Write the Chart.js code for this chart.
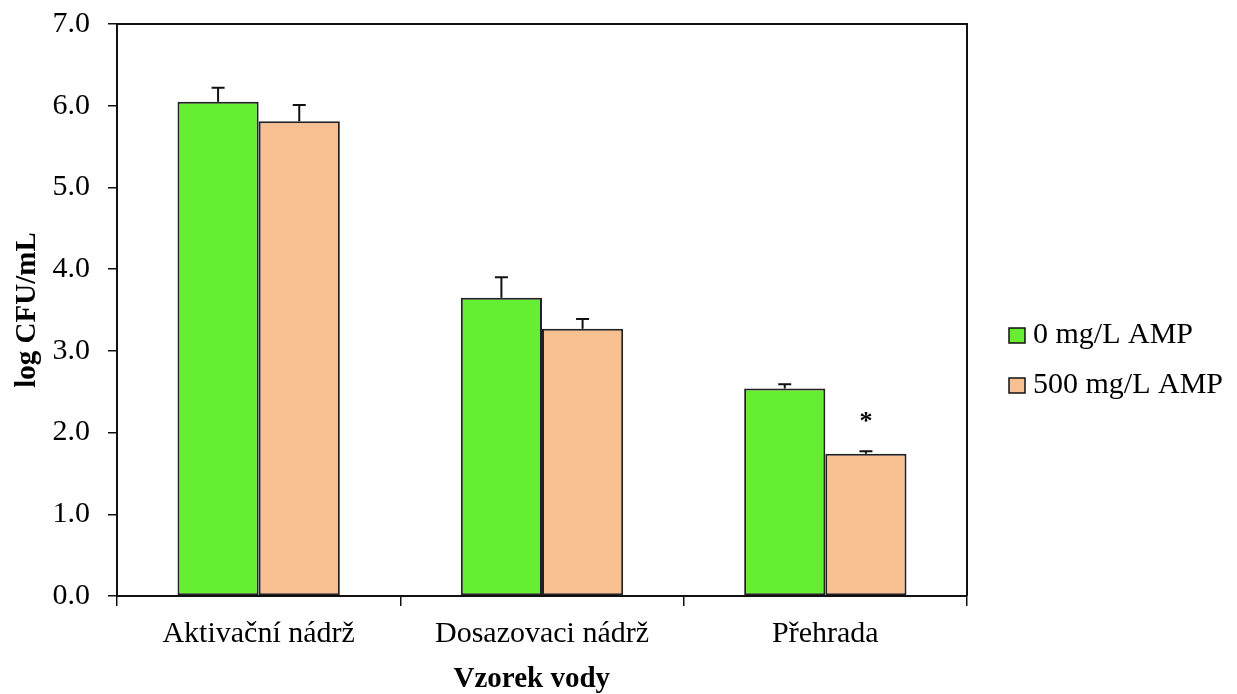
<!DOCTYPE html>
<html>
<head>
<meta charset="utf-8">
<script src="https://cdn.jsdelivr.net/npm/chart.js@4/dist/chart.umd.min.js"></script>
<style>
  html, body { margin: 0; padding: 0; background: #fff; }
  #wrap { width: 1237px; height: 694px; }
</style>
</head>
<body>
<div id="wrap"><canvas id="c" width="1237" height="694"></canvas></div>
<script>
// Water samples on the x axis
const categories = ['Aktivační nádrž', 'Dosazovaci nádrž', 'Přehrada'];
const seriesLabels = ['0 mg/L AMP', '500 mg/L AMP'];

// Mean log CFU/mL and standard deviation for each treatment
const cfu0 = [6.05, 3.65, 2.54];
const sd0 = [0.17, 0.25, 0.05];
const cfu500 = [5.81, 3.27, 1.74];
const sd500 = [0.20, 0.12, 0.03];
// Significance marks above the 500 mg/L bars
const signif500 = ['', '', '*'];

const yTicks = [0, 1, 2, 3, 4, 5, 6, 7];
const xTitle = 'Vzorek vody';
const yTitle = 'log CFU/mL';

const FONT = "'Liberation Serif', 'Times New Roman', serif";

// Upward-only error bars with caps, plus significance markers
const errorBars = {
  id: 'errorBars',
  afterDatasetsDraw(chart) {
    const ctx = chart.ctx;
    const y = chart.scales.y;
    ctx.save();
    ctx.strokeStyle = '#111';
    ctx.lineWidth = 2;
    chart.data.datasets.forEach((ds, di) => {
      const meta = chart.getDatasetMeta(di);
      meta.data.forEach((bar, i) => {
        const top = y.getPixelForValue(ds.data[i] + ds.sd[i]);
        ctx.beginPath();
        ctx.moveTo(bar.x, bar.y);
        ctx.lineTo(bar.x, top);
        ctx.moveTo(bar.x - 6.5, top);
        ctx.lineTo(bar.x + 6.5, top);
        ctx.stroke();
        if (ds.marks && ds.marks[i]) {
          ctx.fillStyle = '#000';
          ctx.font = 'bold 26px ' + FONT;
          ctx.textAlign = 'center';
          ctx.textBaseline = 'alphabetic';
          ctx.fillText(ds.marks[i], bar.x, top - 22);
        }
      });
    });
    ctx.restore();
  }
};

// Closes the plot box on the top and right sides, and writes the x-axis title
const plotFrame = {
  id: 'plotFrame',
  afterDraw(chart) {
    const { ctx, chartArea: a } = chart;
    ctx.save();
    ctx.strokeStyle = '#111';
    ctx.lineWidth = 2;
    ctx.beginPath();
    ctx.moveTo(a.left, a.top);
    ctx.lineTo(a.right, a.top);
    ctx.lineTo(a.right, a.bottom);
    ctx.stroke();
    ctx.fillStyle = '#000';
    ctx.font = 'bold 29px ' + FONT;
    ctx.textAlign = 'center';
    ctx.textBaseline = 'alphabetic';
    ctx.fillText(xTitle, a.left + (a.right - a.left) * 0.488, 687);
    ctx.restore();
  }
};

// Legend to the right of the plot box
const sideLegend = {
  id: 'sideLegend',
  afterDraw(chart) {
    const ctx = chart.ctx;
    const x0 = 1009, baseY = 343, step = 50;
    ctx.save();
    chart.data.datasets.forEach((ds, i) => {
      const by = baseY + i * step;
      ctx.fillStyle = ds.backgroundColor;
      ctx.fillRect(x0, by - 15, 16, 15);
      ctx.strokeStyle = '#111';
      ctx.lineWidth = 1.5;
      ctx.strokeRect(x0, by - 15, 16, 15);
      ctx.fillStyle = '#000';
      ctx.font = '30px ' + FONT;
      ctx.textAlign = 'left';
      ctx.textBaseline = 'alphabetic';
      ctx.fillText(ds.label, x0 + 24, by);
    });
    ctx.restore();
  }
};

new Chart(document.getElementById('c'), {
  type: 'bar',
  data: {
    labels: categories,
    datasets: [
      {
        label: seriesLabels[0],
        data: cfu0,
        sd: sd0,
        backgroundColor: '#66EE33',
        borderColor: '#222',
        borderWidth: 2,
        borderSkipped: false
      },
      {
        label: seriesLabels[1],
        data: cfu500,
        sd: sd500,
        marks: signif500,
        backgroundColor: '#F8C090',
        borderColor: '#222',
        borderWidth: 2,
        borderSkipped: false
      }
    ]
  },
  options: {
    responsive: false,
    animation: false,
    devicePixelRatio: 1,
    layout: { padding: { top: 24, right: 270, left: 0, bottom: 0 } },
    datasets: { bar: { categoryPercentage: 0.573, barPercentage: 1.0 } },
    plugins: {
      legend: { display: false },
      tooltip: { enabled: false }
    },
    scales: {
      x: {
        afterFit(s) { s.height = 98; s.paddingLeft = 0; s.paddingRight = 0; },
        grid: {
          offset: true,
          drawOnChartArea: false,
          drawTicks: true,
          tickLength: 10,
          color: '#111',
          lineWidth: 1.5
        },
        border: { display: true, color: '#111', width: 2 },
        ticks: {
          color: '#000',
          font: { family: FONT, size: 30 },
          padding: 10,
          maxRotation: 0
        },
        title: { display: false }
      },
      y: {
        min: 0,
        max: 7,
        afterFit(s) { s.width = 117; s.paddingTop = 0; s.paddingBottom = 0; },
        afterBuildTicks(s) { s.ticks = yTicks.map(v => ({ value: v })); },
        grid: {
          drawOnChartArea: false,
          drawTicks: true,
          tickLength: 9,
          color: '#111',
          lineWidth: 1.5
        },
        border: { display: true, color: '#111', width: 2 },
        ticks: {
          color: '#000',
          font: { family: FONT, size: 30 },
          padding: 18,
          callback: v => Number(v).toFixed(1)
        },
        title: {
          display: true,
          text: yTitle,
          color: '#000',
          font: { family: FONT, size: 29, weight: 'bold' },
          padding: { top: 10, bottom: 0 }
        }
      }
    }
  },
  plugins: [errorBars, plotFrame, sideLegend]
});
</script>
</body>
</html>
